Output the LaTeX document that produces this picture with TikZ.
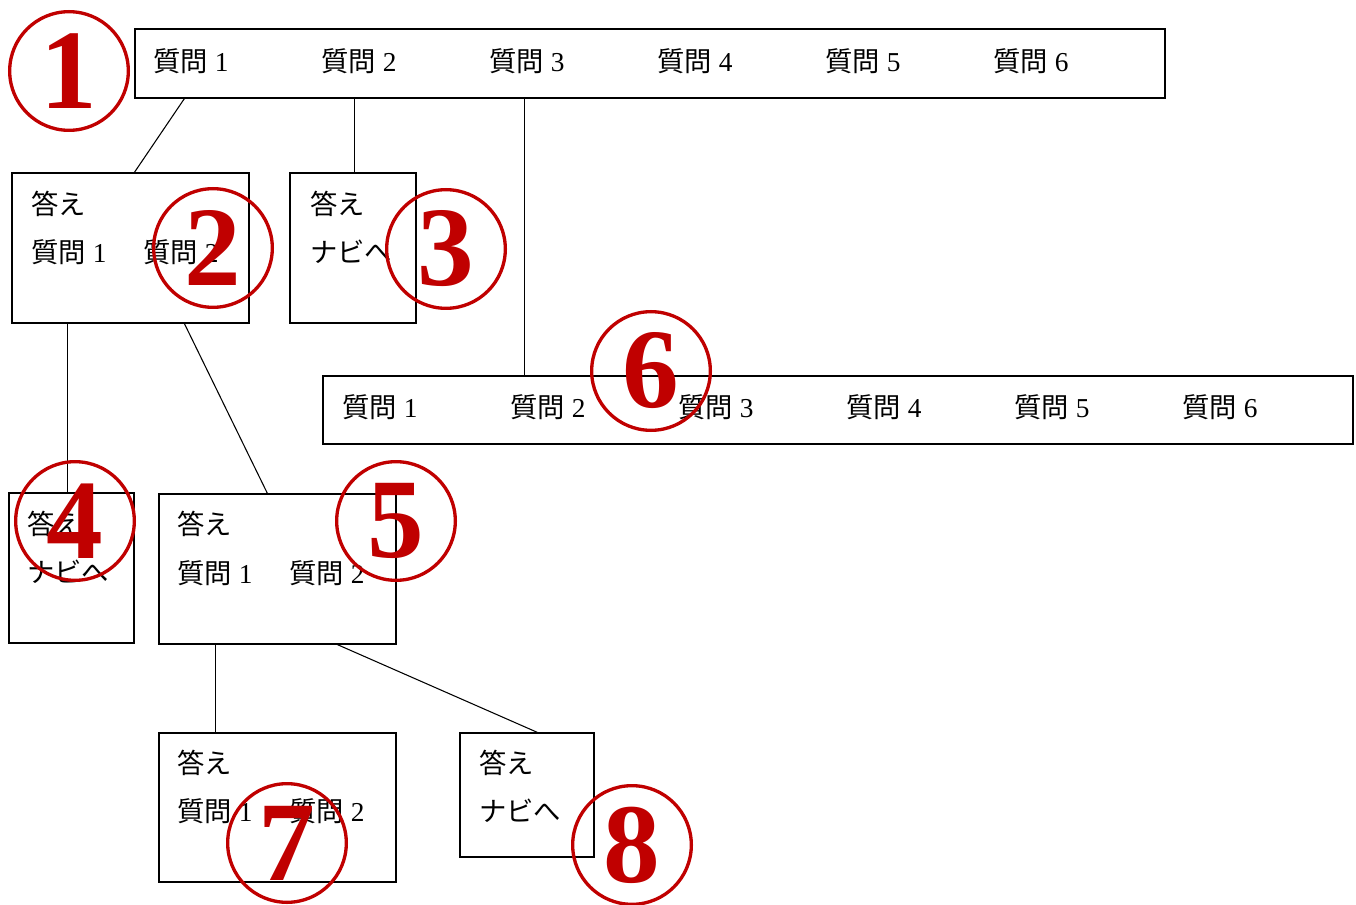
\documentclass[tikz,border=0pt]{standalone}
\usepackage{fontspec}
\setmainfont{Liberation Serif}
\newfontfamily\jp{Noto Sans CJK JP}
\usetikzlibrary{fit,calc}
\definecolor{cred}{HTML}{C00000}
\newcommand{\Q}[1]{{\jp 質問}\hspace{0.25em}#1}
\newcommand{\A}{{\jp 答え}}
\newcommand{\N}{{\jp ナビへ}}
\begin{document}
\begin{tikzpicture}[x=0.75pt,y=-0.75pt,
  box/.style={draw=black,line width=0.9pt,inner sep=0pt},
  txt/.style={anchor=west,inner sep=0pt,font=\fontsize{20.5}{22}\selectfont},
  link/.style={draw=black,line width=0.8pt},
  circ/.style={draw=cred,line width=2.5pt,circle,minimum size=89pt,inner sep=0pt,
    text=cred,font=\fontsize{85}{85}\selectfont\bfseries}]
\useasboundingbox (0,0) rectangle (1356,905);
% boxes
\node[box,fit={(135,29)(1165,98)}] (top) {};
\node[box,fit={(12,173)(249,323)}] (b2) {};
\node[box,fit={(290,173)(416,323)}] (b3) {};
\node[box,fit={(323,376)(1353,444)}] (b6) {};
\node[box,fit={(9,493)(134,643)}] (b4) {};
\node[box,fit={(159,494)(396,644)}] (b5) {};
\node[box,fit={(159,733)(396,882)}] (b7) {};
\node[box,fit={(460,733)(594,857)}] (b8) {};
% texts top bar
\node[txt] (t1) at (153,61) {\Q{1}};
\node[txt] (t2) at (321,61) {\Q{2}};
\node[txt] (t3) at (489,61) {\Q{3}};
\node[txt] (t4) at (657,61) {\Q{4}};
\node[txt] (t5) at (825,61) {\Q{5}};
\node[txt] (t6) at (993,61) {\Q{6}};
% bar 6
\node[txt] (s1) at (342,407) {\Q{1}};
\node[txt] (s2) at (510,407) {\Q{2}};
\node[txt] (s3) at (678,407) {\Q{3}};
\node[txt] (s4) at (846,407) {\Q{4}};
\node[txt] (s5) at (1014,407) {\Q{5}};
\node[txt] (s6) at (1182,407) {\Q{6}};
% box 2
\node[txt] (b2a) at (31,204) {\A};
\node[txt] (b2q1) at (31,252) {\Q{1}};
\node[txt] (b2q2) at (143,252) {\Q{2}};
% box 3
\node[txt] (b3a) at (310,204) {\A};
\node[txt] (b3n) at (310,252) {\N};
% box 4
\node[txt] (b4a) at (27,524) {\A};
\node[txt] (b4n) at (27,572) {\N};
% box 5
\node[txt] (b5a) at (177,524) {\A};
\node[txt] (b5q1) at (177,573) {\Q{1}};
\node[txt] (b5q2) at (289,573) {\Q{2}};
% box 7
\node[txt] (b7a) at (177,763) {\A};
\node[txt] (b7q1) at (177,811) {\Q{1}};
\node[txt] (b7q2) at (289,811) {\Q{2}};
% box 8
\node[txt] (b8a) at (479,763) {\A};
\node[txt] (b8n) at (479,811) {\N};
% connectors
\draw[link] ($(top.south west)+(50,0)$) -- ($(b2.north west)+(123,0)$);
\draw[link] ($(top.south west)+(220,0)$) -- ($(b3.north west)+(65,0)$);
\draw[link] ($(top.south west)+(390,0)$) -- ($(b6.north west)+(202,0)$);
\draw[link] ($(b2.south west)+(56,0)$) -- ($(b4.north west)+(59,0)$);
\draw[link] ($(b2.south west)+(173,0)$) -- ($(b5.north west)+(109,0)$);
\draw[link] ($(b5.south west)+(57,0)$) -- ($(b7.north west)+(57,0)$);
\draw[link] ($(b5.south west)+(179,0)$) -- ($(b8.north west)+(78,0)$);
% circled numbers
\node[circ] (c1) at (69,71) {1};
\node[circ] (c2) at (213,248) {2};
\node[circ] (c3) at (446,249) {3};
\node[circ] (c4) at (75,521) {4};
\node[circ] (c5) at (396,521) {5};
\node[circ] (c6) at (651,371) {6};
\node[circ] (c7) at (287,843) {7};
\node[circ] (c8) at (632,845) {8};
\end{tikzpicture}
\end{document}
